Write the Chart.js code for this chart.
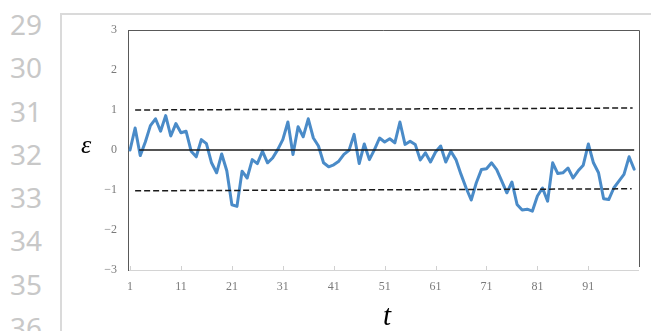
<!DOCTYPE html>
<html>
<head>
<meta charset="utf-8">
<script src="https://cdn.jsdelivr.net/npm/chart.js@4.4.1/dist/chart.umd.min.js"></script>
<style>
    html, body { margin: 0; padding: 0; background: #fff; }
    body { width: 651px; height: 331px; position: relative; overflow: hidden; }
    .line-no { position: absolute; left: 10px; top: 3px; font: 28px "Noto Sans", sans-serif; color: #c8c8c8; line-height: 43.3px; }
    .page-box { position: absolute; left: 60px; top: 13px; width: 620px; height: 340px; border-top: 2px solid #dadada; border-left: 2px solid #dadada; }
    .wrap { position: absolute; left: 0; top: 0; width: 651px; height: 331px; }
    .axis-name { position: absolute; font-style: italic; font-family: "Liberation Serif", serif; color: #000; line-height: 1; transform: translate(-50%, -50%); }
</style>
</head>
<body>
<div class="line-no">29<br>30<br>31<br>32<br>33<br>34<br>35<br>36</div>
<div class="page-box"></div>
<div class="wrap"><canvas id="chart"></canvas></div>
<span class="axis-name" style="left:86px; top:145px; font-size:26px;">ε</span>
<span class="axis-name" style="left:387px; top:315px; font-size:29px;">t</span>
<script>
// time index t = 1..100
const t = Array.from({ length: 100 }, (_, i) => i + 1);

// residuals
const eps = [
    0.00, 0.55, -0.14, 0.20, 0.61, 0.78, 0.47, 0.86, 0.35, 0.66,
    0.43, 0.47, -0.03, -0.17, 0.26, 0.16, -0.32, -0.57, -0.10, -0.52,
    -1.37, -1.41, -0.53, -0.70, -0.24, -0.34, -0.03, -0.32, -0.20, 0.01,
    0.26, 0.70, -0.11, 0.58, 0.33, 0.78, 0.30, 0.10, -0.32, -0.42,
    -0.37, -0.28, -0.11, -0.01, 0.39, -0.34, 0.15, -0.24, 0.01, 0.30,
    0.20, 0.28, 0.18, 0.70, 0.14, 0.22, 0.14, -0.25, -0.07, -0.30,
    -0.05, 0.10, -0.30, -0.03, -0.24, -0.61, -0.95, -1.25, -0.82, -0.49,
    -0.47, -0.32, -0.49, -0.78, -1.07, -0.80, -1.36, -1.50, -1.48, -1.53,
    -1.15, -0.95, -1.28, -0.32, -0.59, -0.57, -0.45, -0.70, -0.52, -0.38,
    0.15, -0.32, -0.57, -1.22, -1.24, -0.95, -0.78, -0.61, -0.17, -0.48
];

// hand drawn guide lines: [start, end]
const zeroLine = [{ x: 2.8, y: 0 }, { x: 100, y: 0 }];
const upperLine = [{ x: 2, y: 1.0 }, { x: 99.7, y: 1.05 }];
const lowerLine = [{ x: 2, y: -1.02 }, { x: 99.5, y: -0.97 }];

const xTicks = [1, 11, 21, 31, 41, 51, 61, 71, 81, 91];
const yTicks = [-3, -2, -1, 0, 1, 2, 3];

const tickFont = { family: '"Liberation Serif", serif', size: 12 };

const frame = {
    id: 'frame',
    afterDraw(chart) {
        const { ctx, chartArea: a, scales: { x } } = chart;
        ctx.save();
        ctx.lineWidth = 1;
        ctx.strokeStyle = '#595959';
        ctx.beginPath();
        ctx.moveTo(a.left, Math.round(a.top) + 0.5);
        ctx.lineTo(Math.round(a.right) + 0.5, Math.round(a.top) + 0.5);
        ctx.lineTo(Math.round(a.right) + 0.5, a.bottom - 3);
        ctx.stroke();
        ctx.strokeStyle = '#d0d0d0';
        ctx.beginPath();
        xTicks.forEach(v => {
            const px = Math.round(x.getPixelForValue(v)) + 0.5;
            ctx.moveTo(px, a.bottom);
            ctx.lineTo(px, a.bottom - 4);
        });
        ctx.stroke();
        ctx.restore();
    }
};

const guide = (data, dash) => ({
    data: data,
    borderColor: '#1a1a1a',
    borderWidth: 1.5,
    borderDash: dash,
    pointRadius: 0,
    fill: false
});

new Chart(document.getElementById('chart'), {
    type: 'line',
    data: {
        datasets: [
            guide(zeroLine, []),
            guide(upperLine, [6, 3]),
            guide(lowerLine, [6, 3]),
            {
                data: eps.map((v, i) => ({ x: t[i], y: v })),
                borderColor: '#4a8bc8',
                borderWidth: 3,
                borderJoinStyle: 'round',
                borderCapStyle: 'round',
                pointRadius: 0,
                tension: 0,
                fill: false
            }
        ]
    },
    options: {
        responsive: true,
        maintainAspectRatio: false,
        animation: false,
        events: [],
        layout: { padding: { left: 88, top: 30, right: 12.5, bottom: 31 } },
        plugins: { legend: { display: false }, tooltip: { enabled: false } },
        scales: {
            x: {
                type: 'linear',
                min: 0.6,
                max: 100.85,
                afterBuildTicks: scale => { scale.ticks = xTicks.map(v => ({ value: v })); },
                afterFit: scale => { scale.height = 30; },
                grid: { display: false, drawTicks: false },
                border: { display: true, color: '#d4d4d4', width: 1 },
                ticks: { font: tickFont, color: '#7a7a7a', padding: 10, maxRotation: 0, autoSkip: false }
            },
            y: {
                min: -3,
                max: 3,
                afterBuildTicks: scale => { scale.ticks = yTicks.map(v => ({ value: v })); },
                afterFit: scale => { scale.width = 40; },
                grid: { display: false, drawTicks: false },
                border: { display: true, color: '#595959', width: 1 },
                ticks: {
                    font: tickFont,
                    color: '#7a7a7a',
                    padding: 11,
                    callback: v => v < 0 ? '\u2212' + Math.abs(v) : String(v)
                }
            }
        }
    },
    plugins: [frame]
});
</script>
</body>
</html>
